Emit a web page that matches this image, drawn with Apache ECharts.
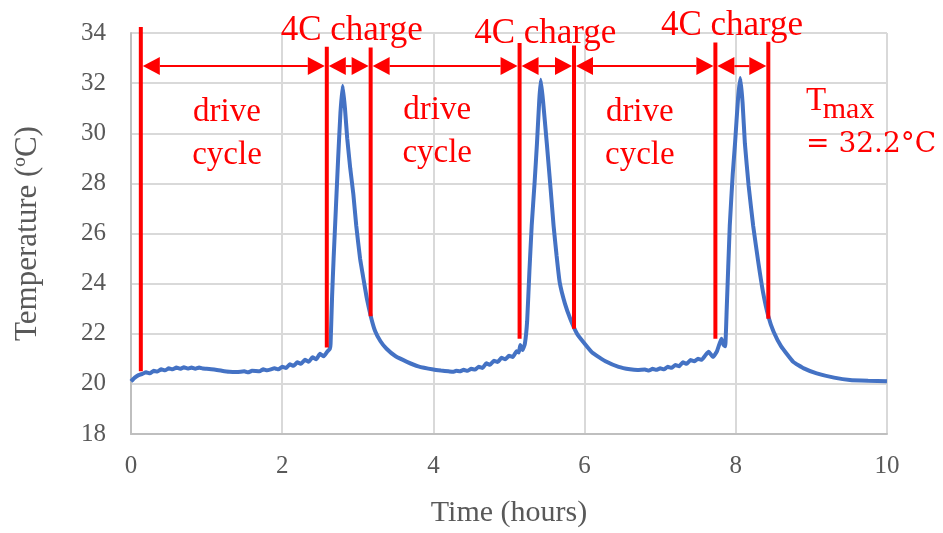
<!DOCTYPE html>
<html lang="en">
<head>
  <meta charset="UTF-8">
  <title>Temperature vs time</title>
  <script src="https://cdn.jsdelivr.net/npm/echarts@6/dist/echarts.min.js"></script>
  <style>
    html, body { margin: 0; padding: 0; background: #fff; }
    #chart { width: 943px; height: 533px; }
  </style>
</head>
<body>
<div id="chart"></div>
<script>
  // measured cell temperature, [time (h), temp (C)], split by phase
  const drive1 = [[0, 20.1], [0.05, 20.25], [0.1, 20.35], [0.15, 20.4], [0.2, 20.46], [0.25, 20.42], [0.3, 20.52],
    [0.35, 20.49], [0.4, 20.58], [0.45, 20.54], [0.5, 20.62], [0.55, 20.58], [0.6, 20.65], [0.65, 20.6], [0.7, 20.66],
    [0.75, 20.61], [0.8, 20.65], [0.85, 20.6], [0.9, 20.65], [0.95, 20.61], [1.0, 20.6], [1.1, 20.57], [1.2, 20.52],
    [1.3, 20.48], [1.4, 20.47], [1.5, 20.5], [1.55, 20.46], [1.6, 20.52], [1.7, 20.5], [1.75, 20.58], [1.8, 20.54],
    [1.9, 20.62], [1.95, 20.58], [2.0, 20.68], [2.05, 20.63], [2.1, 20.78], [2.15, 20.72], [2.2, 20.86], [2.25, 20.8],
    [2.3, 20.96], [2.35, 20.88], [2.4, 21.06], [2.45, 20.98], [2.5, 21.2], [2.55, 21.1], [2.6, 21.3], [2.63, 21.4]]
  const charge1 = [[2.64, 21.6], [2.66, 23.5], [2.68, 25.0], [2.71, 27.0], [2.74, 29.0], [2.77, 30.8], [2.8, 31.9],
    [2.83, 31.0], [2.86, 29.8], [2.9, 28.6], [2.94, 27.6], [2.98, 26.3], [3.03, 25.0], [3.08, 24.1], [3.12, 23.4],
    [3.18, 22.6], [3.23, 22.1], [3.3, 21.7], [3.38, 21.4], [3.5, 21.1], [3.65, 20.88], [3.8, 20.7], [4.0, 20.57]]
  const drive2 = [[4.1, 20.53], [4.2, 20.5], [4.26, 20.48], [4.3, 20.52], [4.35, 20.5], [4.4, 20.56], [4.45, 20.52],
    [4.5, 20.6], [4.55, 20.57], [4.6, 20.68], [4.65, 20.63], [4.7, 20.82], [4.75, 20.76], [4.8, 20.92], [4.85, 20.87],
    [4.9, 21.04], [4.95, 20.98], [5.0, 21.12], [5.05, 21.07], [5.1, 21.3], [5.13, 21.25], [5.15, 21.55], [5.18, 21.35],
    [5.21, 21.6]]
  const charge2 = [[5.24, 22.5], [5.27, 24.5], [5.3, 26.3], [5.34, 28.1], [5.37, 29.6], [5.4, 31.3], [5.42, 32.13],
    [5.45, 31.3], [5.5, 29.6], [5.55, 27.8], [5.59, 26.3], [5.63, 25.1], [5.67, 24.06], [5.74, 23.2], [5.81, 22.6],
    [5.9, 22.0], [5.98, 21.68], [6.1, 21.25], [6.29, 20.88], [6.45, 20.68], [6.6, 20.58], [6.7, 20.55]]
  const drive3 = [[6.8, 20.57], [6.85, 20.53], [6.9, 20.6], [6.95, 20.56], [7.0, 20.62], [7.05, 20.58], [7.1, 20.68],
    [7.15, 20.64], [7.2, 20.75], [7.25, 20.7], [7.3, 20.86], [7.35, 20.8], [7.4, 20.95], [7.45, 20.9], [7.5, 21.0],
    [7.55, 20.96], [7.6, 21.15], [7.64, 21.28], [7.7, 21.08], [7.75, 21.3], [7.81, 21.8], [7.84, 21.55], [7.86, 21.5]]
  const charge3 = [[7.88, 23.0], [7.92, 26.3], [7.96, 28.4], [7.99, 29.6], [8.03, 31.4], [8.06, 32.2], [8.09, 31.2],
    [8.12, 29.6], [8.17, 27.9], [8.23, 26.3], [8.3, 24.8], [8.36, 23.66], [8.43, 22.7], [8.5, 22.08], [8.6, 21.5],
    [8.76, 20.88], [8.9, 20.62], [9.07, 20.42], [9.3, 20.25], [9.51, 20.15], [9.75, 20.12], [10.0, 20.1]]

  // phase boundaries (red bars)
  const cutTimes = [0.13, 2.59, 3.17, 5.14, 5.86, 7.73, 8.43]
  const cutBottoms = [20.5, 21.45, 22.7, 21.8, 22.2, 21.8, 22.6]
  const cutTops = [34.24, 33.45, 33.42, 33.6, 33.5, 33.62, 33.65]
  const arrowLevel = 32.68

  // annotation texts
  const chargeText = '4C charge'
  const chargeX = [2.92, 5.48, 7.95]
  const chargeY = [34.07, 33.97, 34.3]
  const driveText = 'drive\ncycle'
  const driveX = [1.27, 4.05, 6.73]
  const driveY = [29.96, 30.06, 29.96]
  const tmaxPos = [8.93, 31.27]
  const tmaxSubPos = [9.15, 30.92]
  const tmaxValPos = [8.93, 29.55]

  const RED = '#ff0000'
  const GREY = '#595959'
  const SERIF = 'Liberation Serif'

  let temps = drive1.concat(charge1, drive2, charge2, drive3, charge3)

  let myChart = echarts.init(document.getElementById('chart'))
  let option = {
    animation: false,
    backgroundColor: '#fff',
    grid: {left: 131, right: 56, top: 33, bottom: 97},
    xAxis: {
      type: 'value',
      min: 0, max: 10, interval: 2,
      name: 'Time (hours)',
      nameLocation: 'middle',
      nameGap: 64,
      nameTextStyle: {fontFamily: SERIF, fontSize: 30, color: GREY},
      axisLine: {lineStyle: {color: '#bfbfbf', width: 2}},
      axisTick: {show: false},
      axisLabel: {fontFamily: SERIF, fontSize: 25, color: GREY, margin: 20},
      splitLine: {lineStyle: {color: '#d9d9d9', width: 2}}
    },
    yAxis: {
      type: 'value',
      min: 18, max: 34, interval: 2,
      name: 'Temperature (ºC)',
      nameLocation: 'middle',
      nameGap: 88,
      nameRotate: 90,
      nameTextStyle: {fontFamily: SERIF, fontSize: 31, color: GREY},
      axisLine: {show: true, lineStyle: {color: '#bfbfbf', width: 2}},
      axisTick: {show: false},
      axisLabel: {fontFamily: SERIF, fontSize: 25, color: GREY, margin: 25},
      splitLine: {lineStyle: {color: '#d9d9d9', width: 2}}
    },
    series: [
      {
        type: 'line',
        data: temps,
        showSymbol: false,
        smooth: 0.12,
        lineStyle: {color: '#4472c4', width: 4},
        z: 2
      }
    ]
  }
  myChart.setOption(option)

  // annotations: converted from data coords through the grid's scales
  const px = (x, y) => myChart.convertToPixel({gridIndex: 0}, [x, y])
  let g = []
  cutTimes.forEach((t, i) => {
    let a = px(t, cutBottoms[i]), b = px(t, cutTops[i])
    g.push({type: 'line', z: 50, shape: {x1: a[0], y1: a[1], x2: b[0], y2: b[1]}, style: {stroke: RED, lineWidth: 4}})
  })
  const headLen = 17, headHalf = 9
  for (let i = 0; i < cutTimes.length - 1; i++) {
    let a = px(cutTimes[i], arrowLevel), b = px(cutTimes[i + 1], arrowLevel)
    let x1 = a[0] + 2, x2 = b[0] - 2, y = a[1]
    g.push({type: 'line', z: 50, shape: {x1: x1 + headLen, y1: y, x2: x2 - headLen, y2: y}, style: {stroke: RED, lineWidth: 2}})
    g.push({type: 'polygon', z: 50, shape: {points: [[x1, y], [x1 + headLen, y - headHalf], [x1 + headLen, y + headHalf]]}, style: {fill: RED}})
    g.push({type: 'polygon', z: 50, shape: {points: [[x2, y], [x2 - headLen, y - headHalf], [x2 - headLen, y + headHalf]]}, style: {fill: RED}})
  }
  const addText = (pos, text, size, align, extra) => {
    let p = px(pos[0], pos[1])
    g.push({
      type: 'text', z: 60, x: p[0], y: p[1],
      style: Object.assign({text: text, fill: RED, font: size + 'px "' + SERIF + '"', align: align, verticalAlign: 'middle'}, extra || {})
    })
  }
  chargeX.forEach((x, i) => addText([x, chargeY[i]], chargeText, 35, 'center'))
  driveX.forEach((x, i) => addText([x, driveY[i]], driveText, 33, 'center', {lineHeight: 43}))
  addText(tmaxPos, 'T', 33, 'left')
  addText(tmaxSubPos, 'max', 30, 'left')
  addText(tmaxValPos, '= 32.2°C', 28, 'left', {font: '28px "DejaVu Serif"'})

  myChart.setOption({graphic: {elements: g}})
</script>
</body>
</html>
